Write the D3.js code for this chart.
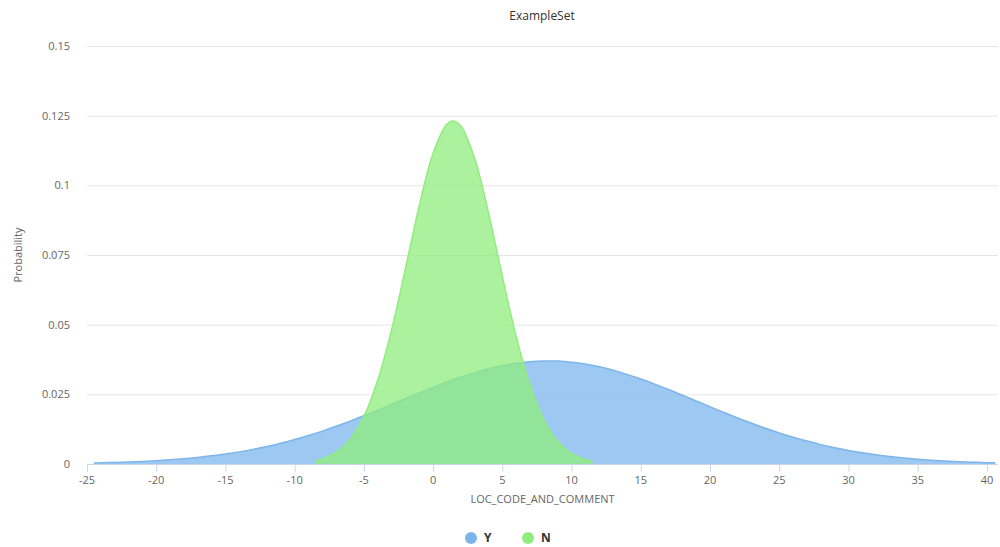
<!DOCTYPE html>
<html><head><meta charset="utf-8">
<script src="https://cdn.jsdelivr.net/npm/d3@7"></script>
<style>body{margin:0;background:#fff;font-family:"Open Sans",sans-serif}</style>
</head><body><svg id="c" width="1000" height="547"></svg>
<script>
const title = "ExampleSet";
const xTitle = "LOC_CODE_AND_COMMENT";
const yTitle = "Probability";
const xTicks = [-25,-20,-15,-10,-5,0,5,10,15,20,25,30,35,40];
const yTicks = [0,0.025,0.05,0.075,0.1,0.125,0.15];
const seriesNames = ["Y","N"];
const seriesColors = ["#7cb5ec","#90ed7d"];
const yX = [-24.5,-24,-23,-22,-21,-20,-19,-18,-17,-16,-15,-14,-13,-12,-11,-10,-9,-8,-7,-6,-5,-4,-3,-2,-1,0,1,2,3,4,5,6,7,8,9,10,11,12,13,14,15,16,17,18,19,20,21,22,23,24,25,26,27,28,29,30,31,32,33,34,35,36,37,38,39,40,40.6];
const yVals = [0.00036,0.00042,0.00055,0.00071,0.00092,0.00118,0.0015,0.00189,0.00236,0.00292,0.00358,0.00435,0.00525,0.00628,0.00745,0.00876,0.01021,0.0118,0.01352,0.01535,0.01729,0.0193,0.02136,0.02344,0.0255,0.02751,0.02942,0.03119,0.03279,0.03417,0.03531,0.03617,0.03673,0.03699,0.03692,0.03654,0.03586,0.03488,0.03364,0.03217,0.0305,0.02867,0.02671,0.02468,0.02261,0.02053,0.01848,0.0165,0.0146,0.01281,0.01114,0.00961,0.00822,0.00696,0.00585,0.00488,0.00403,0.0033,0.00268,0.00216,0.00172,0.00136,0.00107,0.00083,0.00064,0.00049,0.00042];
const nX = [-8.5,-8,-7,-6,-5,-4,-3,-2,-1,0,1,1.44,2,3,4,5,6,7,8,9,10,11,11.5];
const nVals = [0.00111,0.00177,0.00414,0.00882,0.01709,0.03009,0.04814,0.07007,0.09271,0.11152,0.12197,0.1231,0.12128,0.10963,0.09009,0.06731,0.04572,0.02824,0.01585,0.00809,0.00375,0.00158,0.00099];

const svg = d3.select("#c");
const L = 87, R = 998, T = 46, B = 464;
const x = d3.scaleLinear().domain([-25, 40.8]).range([L, R]);
const y = d3.scaleLinear().domain([0, 0.15]).range([B, T]);

// grid
svg.append("g").selectAll("line").data(yTicks.filter(d=>d>0)).join("line")
  .attr("x1", L).attr("x2", R).attr("y1", d=>y(d)+0.5).attr("y2", d=>y(d)+0.5)
  .attr("stroke", "#e6e6e6").attr("stroke-width", 1);

// y labels
svg.append("g").selectAll("text").data(yTicks).join("text")
  .attr("x", 70).attr("y", d=>y(d)+4).attr("text-anchor","end")
  .attr("font-size", 11).attr("fill", "#666").text(d=>d3.format("")(d));

// series
const data = [yX.map((v,i)=>[v,yVals[i]]), nX.map((v,i)=>[v,nVals[i]])];
const area = d3.area().x(d=>x(d[0])).y0(y(0)).y1(d=>y(d[1])).curve(d3.curveCatmullRom);
const line = d3.line().x(d=>x(d[0])).y(d=>y(d[1])).curve(d3.curveCatmullRom);
data.forEach((s,i)=>{
  svg.append("path").attr("d", area(s)).attr("fill", seriesColors[i]).attr("fill-opacity", 0.75);
  svg.append("path").attr("d", line(s)).attr("fill","none").attr("stroke", seriesColors[i]).attr("stroke-width", 1.5);
});

// x axis
svg.append("line").attr("x1", L).attr("x2", R).attr("y1", B+0.5).attr("y2", B+0.5).attr("stroke","#ccd6eb");
svg.append("g").selectAll("line").data(xTicks).join("line")
  .attr("x1", d=>x(d)+0.5).attr("x2", d=>x(d)+0.5).attr("y1", B).attr("y2", B+8).attr("stroke","#ccd6eb");
svg.append("g").selectAll("text").data(xTicks).join("text")
  .attr("x", d=>x(d)).attr("y", B+20).attr("text-anchor","middle")
  .attr("font-size", 11).attr("fill","#666").text(d=>d);

// titles
svg.append("text").attr("x", 542).attr("y", 20).attr("text-anchor","middle")
  .attr("font-size", 12).attr("fill","#333").text(title);
svg.append("text").attr("x", (L+R)/2).attr("y", 503).attr("text-anchor","middle")
  .attr("font-size", 11).attr("fill","#666").text(xTitle);
svg.append("text").attr("transform", `translate(22,255) rotate(-90)`).attr("text-anchor","middle")
  .attr("font-size", 11).attr("fill","#666").text(yTitle);

// legend
const lg = svg.append("g");
const lx = [471, 528];
seriesNames.forEach((n,i)=>{
  lg.append("circle").attr("cx", lx[i]).attr("cy", 538).attr("r", 6).attr("fill", seriesColors[i]);
  lg.append("text").attr("x", lx[i]+13).attr("y", 542).attr("font-size", 12).attr("font-weight","bold").attr("fill","#333").text(n);
});
</script></body></html>
